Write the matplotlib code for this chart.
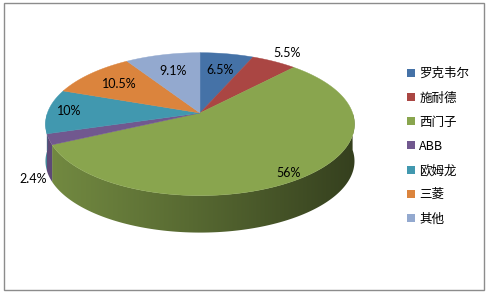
import numpy as np
import matplotlib
matplotlib.use("Agg")
import matplotlib.pyplot as plt
from matplotlib.patches import Polygon, Rectangle, Patch
from matplotlib.colors import to_rgb

plt.rcParams['font.family'] = ['Noto Sans CJK SC', 'DejaVu Sans']

# 数据
names = ['罗克韦尔', '施耐德', '西门子', 'ABB', '欧姆龙', '三菱', '其他']
shares = [6.5, 5.5, 56, 2.4, 10, 10.5, 9.1]
labels = ['6.5%', '5.5%', '56%', '2.4%', '10%', '10.5%', '9.1%']
colors = ['#4572A7', '#AA4643', '#89A54E', '#71588F', '#4198AF', '#DB843D', '#93A9CF']

# 标签位置 (半径系数, 下移比例)
label_pos = [(0.70, 0), (1.20, 0), (0.88, 0.1), (1.10, 1.0), (0.86, 0), (0.72, 0), (0.70, 0)]

# 饼图几何 (像素坐标)
cx, cy = 200, 113
rx, ry = 152.6, 69.7
k = 0.156      # 透视
depth = 37


def proj(t, f=1.0):
    s = 1 + k * f * np.sin(t)
    return cx + rx * f * np.cos(t) / s, cy - ry * f * np.sin(t) / s


fig = plt.figure(figsize=(4.88, 2.94), dpi=100)
ax = fig.add_axes([0, 0, 1, 1])
ax.set_xlim(0, 488)
ax.set_ylim(294, 0)
ax.axis('off')

ax.add_patch(Rectangle((3.5, 2.5), 480, 287.5, fill=False, ec='#8c8c8c', lw=1))

vals = np.array(shares, dtype=float)
ends = np.radians(90 - np.cumsum(vals) / vals.sum() * 360)
starts = np.concatenate([[np.pi / 2], ends[:-1]])

# 侧面 (只画前半部分), 横向渐变
x0, x1 = cx - rx - 5, cx + rx + 5
gx = np.linspace(0, 1, 400)
shade = 0.84 - 0.46 * gx ** 1.1
for a0, a1, c in zip(starts, ends, colors):
    lo, hi = min(a0, a1), max(a0, a1)
    for off in (0, -2 * np.pi, 2 * np.pi):
        s0, s1 = max(lo + off, -np.pi), min(hi + off, 0)
        if s1 <= s0:
            continue
        ts = np.linspace(s0, s1, 150)
        px, py = proj(ts)
        pts = list(zip(px, py)) + list(zip(px[::-1], py[::-1] + depth))
        wall = Polygon(pts, closed=True, fc='none', ec='none')
        ax.add_patch(wall)
        img = np.array(to_rgb(c))[None, None, :] * shade[None, :, None]
        im = ax.imshow(img, extent=(x0, x1, cy + ry * 1.3 + depth, cy - ry * 1.3),
                       aspect='auto', interpolation='bilinear', zorder=1)
        im.set_clip_path(wall)
ax.set_xlim(0, 488)
ax.set_ylim(294, 0)

# 顶面
for a0, a1, c in zip(starts, ends, colors):
    ts = np.linspace(a0, a1, 200)
    px, py = proj(ts)
    pts = [(cx, cy)] + list(zip(px, py))
    ax.add_patch(Polygon(pts, closed=True, fc=c, ec=c, lw=0.3, zorder=2))

# 数据标签
for a0, a1, lab, (f, drop) in zip(starts, ends, labels, label_pos):
    m = (a0 + a1) / 2
    lx, ly = proj(m, f)
    ax.text(lx, ly + drop * depth, lab, ha='center', va='center', fontsize=9,
            family=['Lato', 'DejaVu Sans'], color='black', zorder=3)

handles = [Patch(fc=c, ec='none') for c in colors]
ax.legend(handles, names, loc='upper left', bbox_to_anchor=(0.822, 0.793), frameon=False,
          fontsize=9, handlelength=0.6, handleheight=0.6, handletextpad=0.35,
          labelspacing=0.9, borderpad=0)

fig.savefig('out.png', dpi=100)
